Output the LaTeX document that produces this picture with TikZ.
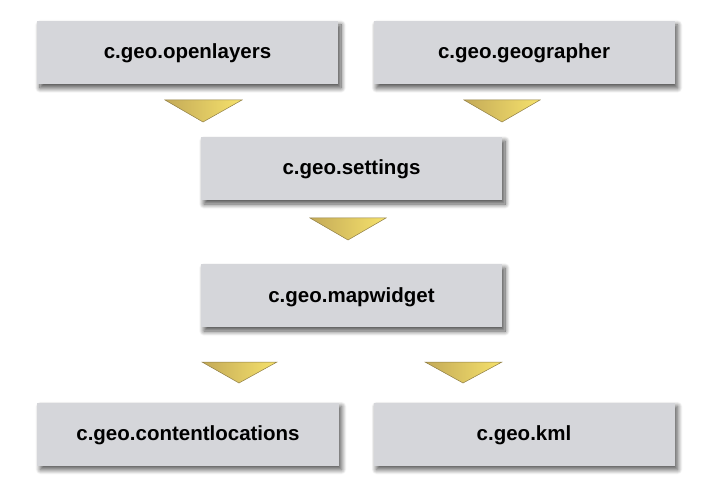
\documentclass[tikz,border=0pt]{standalone}
\usepackage{fontspec}
\setmainfont{Liberation Sans}
\usetikzlibrary{shadows.blur}
\definecolor{boxgray}{HTML}{D5D6DA}
\definecolor{goldL}{HTML}{C4AA58}
\definecolor{goldR}{HTML}{F6E26C}
\definecolor{goldEdge}{HTML}{8F7E45}
\begin{document}
\begin{tikzpicture}[x=1bp,y=-1bp,
  modbox/.style={fill=boxgray, minimum width=301bp, minimum height=63bp, inner sep=0pt,
    text height=15bp, text depth=2bp,
    font=\fontsize{20.5bp}{24bp}\selectfont\bfseries,
    blur shadow={shadow xshift=3bp, shadow yshift=-4bp, shadow blur steps=10, shadow blur radius=5bp, shadow opacity=70}},
  arrowtri/.style={left color=goldL, right color=goldR, draw=goldEdge, line width=0.5bp}]
\useasboundingbox (0,0) rectangle (716,492);
\node[modbox] (ol) at (187.5,52.5) {c.geo.openlayers};
\node[modbox] (gg) at (524,52.5) {c.geo.geographer};
\node[modbox] (st) at (351.5,168.5) {c.geo.settings};
\node[modbox] (mw) at (351.5,295.5) {c.geo.mapwidget};
\node[modbox] (cl) at (188,434) {c.geo.contentlocations};
\node[modbox] (km) at (524,434) {c.geo.kml};
\path[arrowtri] (165,100) -- (242,100) -- (203,122) -- cycle;
\path[arrowtri] (464,100) -- (540,100) -- (502,122) -- cycle;
\path[arrowtri] (310,218) -- (386,218) -- (348,240) -- cycle;
\path[arrowtri] (202,362) -- (277,362) -- (239,383) -- cycle;
\path[arrowtri] (425,362) -- (502,362) -- (463,383) -- cycle;
\end{tikzpicture}
\end{document}
